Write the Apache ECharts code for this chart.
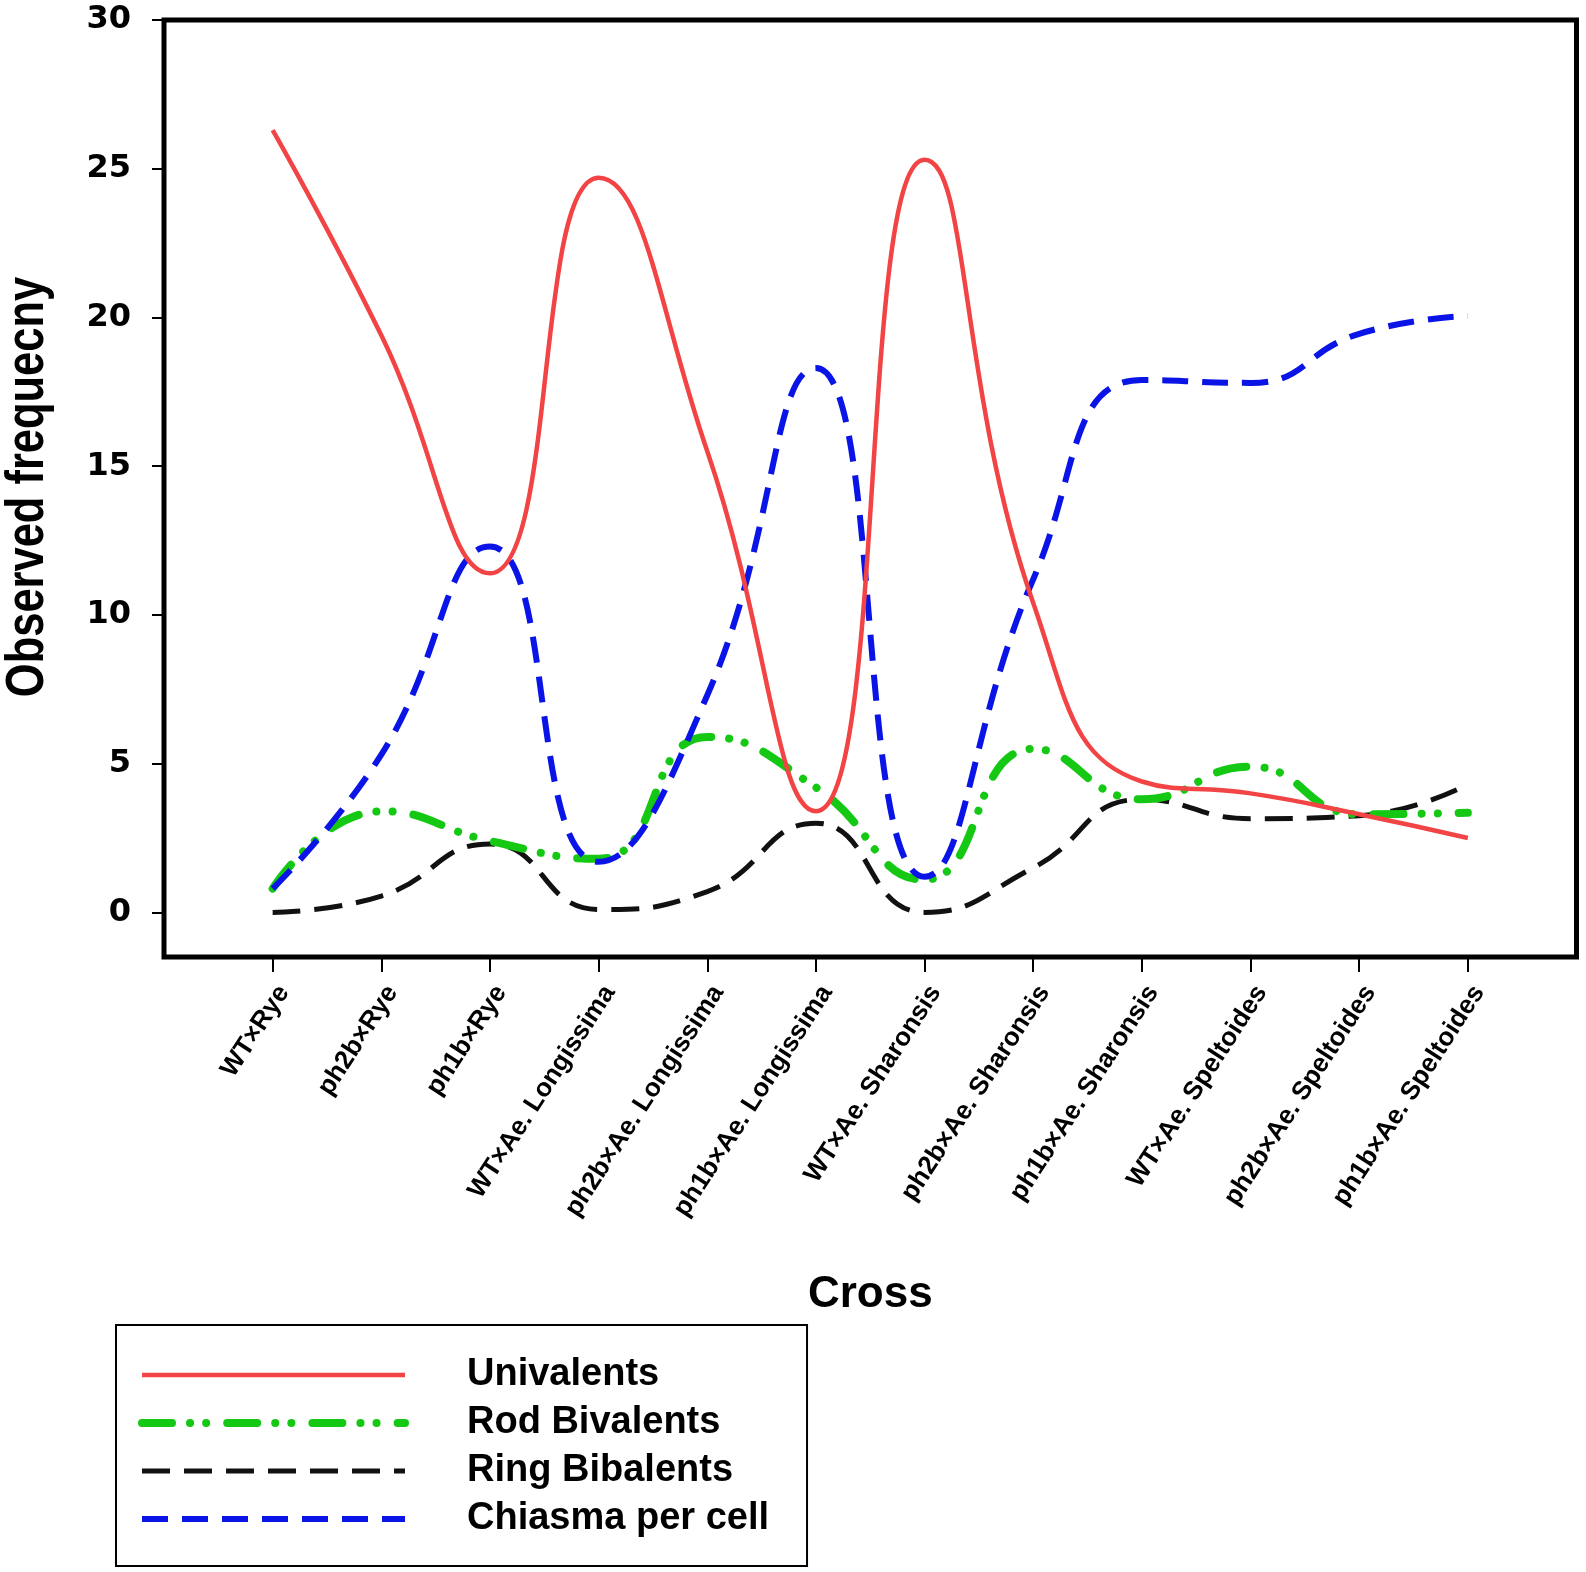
<!DOCTYPE html>
<html>
<head>
<meta charset="utf-8">
<script src="https://cdn.jsdelivr.net/npm/echarts@6/dist/echarts.min.js"></script>
<style>
html,body{margin:0;padding:0;background:#fff;}
#chart{width:1586px;height:1572px;}
</style>
</head>
<body>
<div id="chart"></div>
<script>
const categories = ['WT×Rye','ph2b×Rye','ph1b×Rye','WT×Ae. Longissima','ph2b×Ae. Longissima','ph1b×Ae. Longissima','WT×Ae. Sharonsis','ph2b×Ae. Sharonsis','ph1b×Ae. Sharonsis','WT×Ae. Speltoides','ph2b×Ae. Speltoides','ph1b×Ae. Speltoides'];
const univalents = [26.3, 19.4, 11.4, 24.7, 15.5, 3.4, 25.3, 10.4, 4.4, 4.0, 3.3, 2.5];
const rodBivalents = [0.8, 3.4, 2.4, 1.8, 5.9, 4.2, 1.1, 5.5, 3.8, 4.9, 3.3, 3.35];
const ringBibalents = [0.0, 0.55, 2.3, 0.1, 0.7, 3.0, 0.0, 1.5, 3.8, 3.15, 3.25, 4.3];
const chiasmaPerCell = [0.8, 5.3, 12.3, 1.7, 7.3, 18.3, 1.2, 11.2, 17.9, 17.8, 19.45, 20.05];
const yTicks = [0, 5, 10, 15, 20, 25, 30];
const xTicks = categories.map((c, i) => i);
const yTitle = 'Observed frequecny';
const xTitle = 'Cross';

const pts = arr => arr.map((v, i) => [i, v]);

const chart = echarts.init(document.getElementById('chart'), null, {renderer: 'canvas'});
chart.setOption({
  backgroundColor: '#fff',
  animation: false,
  grid: {left: 164, right: 9.5, top: 20, bottom: 615, show: true, borderColor: '#000', borderWidth: 5,
         backgroundColor: 'transparent', outerBoundsMode: 'none', containLabel: false},
  graphic: [{
    type: 'text', x: 28, y: 487, rotation: Math.PI / 2, scaleX: 0.82, z: 10,
    style: {text: yTitle, fill: '#000', font: 'bold 53px "Liberation Sans", Arial, sans-serif',
            textAlign: 'center', textVerticalAlign: 'middle'}
  }],
  xAxis: {
    type: 'value', min: -1, max: 12,
    name: xTitle, nameLocation: 'middle', nameGap: 316,
    nameTextStyle: {fontSize: 44, fontWeight: 'bold', fontFamily: 'Liberation Sans, Arial, sans-serif', color: '#000'},
    axisLine: {show: false, onZero: false},
    splitLine: {show: false},
    axisTick: {show: true, customValues: xTicks, length: 15, lineStyle: {color: '#000', width: 2}},
    axisLabel: {
      customValues: xTicks, rotate: 57, margin: 24, verticalAlign: 'top',
      formatter: v => categories[Math.round(v)] || '',
      fontSize: 26, fontWeight: 'bold', fontFamily: 'Liberation Sans, Arial, sans-serif', color: '#000'
    }
  },
  yAxis: {
    type: 'value', min: -1.5, max: 30,
    axisLine: {show: false, onZero: false},
    splitLine: {show: false},
    axisTick: {show: true, customValues: yTicks, length: 12, lineStyle: {color: '#000', width: 2}},
    axisLabel: {customValues: yTicks, margin: 33, fontSize: 32, fontWeight: 'bold', fontFamily: 'DejaVu Sans, sans-serif', color: '#000'}
  },
  legend: {
    orient: 'vertical', left: 116, top: 1325,
    itemWidth: 263, itemHeight: 14, itemGap: 0,
    padding: [26, 38, 23, 22],
    backgroundColor: '#fff', borderColor: '#000', borderWidth: 2,
    itemStyle: {opacity: 0},
    lineStyle: {width: 'inherit'},
    textStyle: {fontSize: 38, fontWeight: 'bold', fontFamily: 'Liberation Sans, Arial, sans-serif', color: '#000', lineHeight: 48, padding: [0, 0, 0, 57]},
    data: ['Univalents', 'Rod Bivalents', 'Ring Bibalents', 'Chiasma per cell']
  },
  series: [
    {name: 'Ring Bibalents', type: 'line', data: pts(ringBibalents), smooth: 0.5, symbol: 'none', z: 2,
     lineStyle: {color: '#111', width: 5, type: [28, 14]}, itemStyle: {color: '#111'}},
    {name: 'Rod Bivalents', type: 'line', data: pts(rodBivalents), smooth: 0.5, symbol: 'none', z: 3,
     lineStyle: {color: '#14C814', width: 8, type: [30, 18, 0.1, 16, 0.1, 21], cap: 'round'}, itemStyle: {color: '#14C814'}},
    {name: 'Chiasma per cell', type: 'line', data: pts(chiasmaPerCell), smooth: 0.5, symbol: 'none', z: 4,
     lineStyle: {color: '#0A14E6', width: 6, type: [26, 14]}, itemStyle: {color: '#0A14E6'}},
    {name: 'Univalents', type: 'line', data: pts(univalents), smooth: 0.5, symbol: 'none', z: 5,
     lineStyle: {color: '#F24444', width: 4.5}, itemStyle: {color: '#F24444'}}
  ]
});
</script>
</body>
</html>
